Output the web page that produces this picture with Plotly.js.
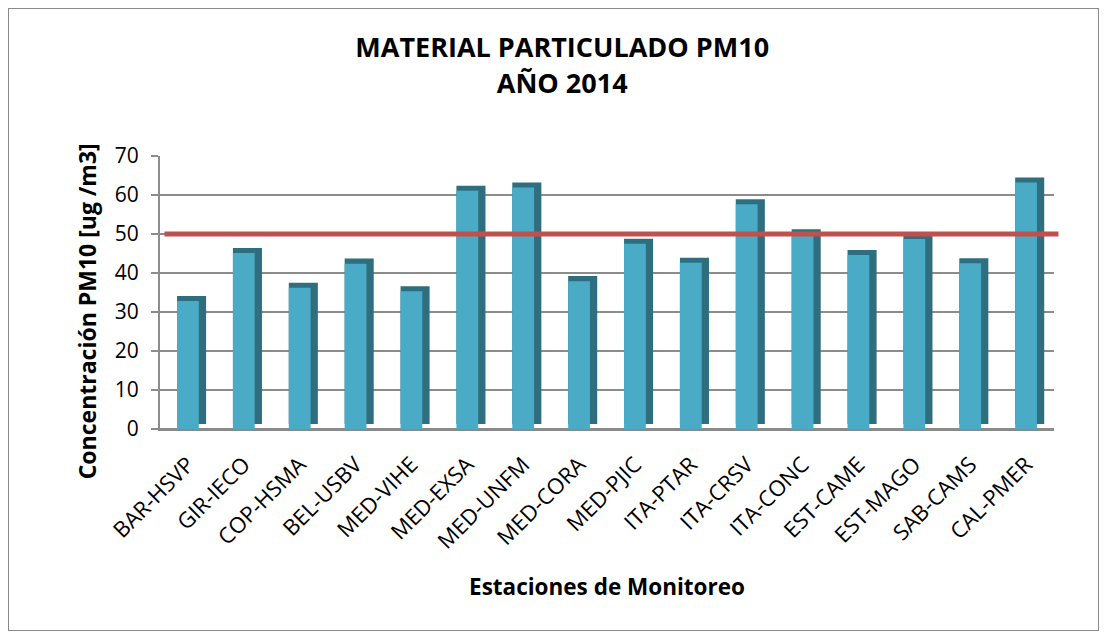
<!DOCTYPE html>
<html>
<head>
<meta charset="utf-8">
<script src="https://cdn.plot.ly/plotly-3.0.1.min.js"></script>
<style>
  body { margin: 8px; background: #fff; }
  #chart { width: 1089px; height: 621px; border: 1px solid #8a8a8a; }
</style>
</head>
<body>
<div id="chart"></div>
<script>
// ---- data ----
const estaciones = ["BAR-HSVP","GIR-IECO","COP-HSMA","BEL-USBV","MED-VIHE","MED-EXSA","MED-UNFM","MED-CORA",
                    "MED-PJIC","ITA-PTAR","ITA-CRSV","ITA-CONC","EST-CAME","EST-MAGO","SAB-CAMS","CAL-PMER"];
const pm10 = [32.8, 45.1, 36.2, 42.4, 35.3, 61.1, 61.9, 37.9, 47.5, 42.6, 57.6, 49.9, 44.6, 48.7, 42.5, 63.2];
const limite = 50;
const yTicks = [0, 10, 20, 30, 40, 50, 60, 70];

// ---- style ----
const FONT = "'Open Sans', sans-serif";
const depth = 1.3; // pseudo-3D depth in axis units

const sideTrace = {
  type: 'bar', x: estaciones, y: pm10, base: depth,
  width: 0.52, offset: -0.195,
  marker: {color: '#2f6e7f', line: {width: 0}},
  hoverinfo: 'skip', showlegend: false
};
const frontTrace = {
  type: 'bar', x: estaciones, y: pm10,
  width: 0.39, offset: -0.195,
  marker: {color: '#4aabc6', line: {width: 0}},
  showlegend: false, name: 'PM10'
};

const layout = {
  width: 1089, height: 621,
  margin: {l: 151, r: 44, t: 147, b: 201},
  paper_bgcolor: '#ffffff', plot_bgcolor: '#ffffff',
  barmode: 'overlay',
  font: {family: FONT, color: '#000'},
  title: {
    text: '<b>MATERIAL PARTICULADO PM10<br>AÑO 2014</b>',
    font: {family: FONT, size: 27, color: '#000'},
    x: 0.508, xanchor: 'center', xref: 'container',
    y: 0.922, yanchor: 'top', yref: 'container'
  },
  shapes: [{
    type: 'line', xref: 'paper', yref: 'y',
    x0: 0.005, x1: 1.005, y0: limite, y1: limite,
    line: {color: '#c0504d', width: 5}, layer: 'above'
  }],
  annotations: [{
    text: '<b>Concentración PM10 [ug /m3]</b>',
    textangle: -90, showarrow: false,
    xref: 'paper', yref: 'paper', x: -0.0814, y: 0.432,
    xanchor: 'center', yanchor: 'middle',
    font: {family: FONT, size: 23, color: '#000'}
  }],
  xaxis: {
    type: 'category',
    tickangle: -45,
    tickfont: {family: FONT, size: 22, color: '#000'},
    ticklabelstandoff: 12,
    showgrid: false, showline: true, linecolor: '#8a8a8a', linewidth: 2,
    ticks: '', range: [-0.5, 15.5],
    title: {text: '<b>Estaciones de Monitoreo</b>', font: {family: FONT, size: 22.5, color: '#000'}, standoff: 26}
  },
  yaxis: {
    range: [0, 70],
    tickvals: yTicks,
    tickfont: {family: FONT, size: 21, color: '#000'},
    ticklabelstandoff: 8,
    showgrid: true, gridcolor: '#8c8c8c', gridwidth: 2,
    showline: true, linecolor: '#8c8c8c', linewidth: 2,
    ticks: 'outside', ticklen: 7, tickcolor: '#8c8c8c', tickwidth: 2,
    zeroline: true, zerolinecolor: '#8c8c8c', zerolinewidth: 2
  }
};

Plotly.newPlot('chart', [sideTrace, frontTrace], layout, {displayModeBar: false, staticPlot: true});
</script>
</body>
</html>
